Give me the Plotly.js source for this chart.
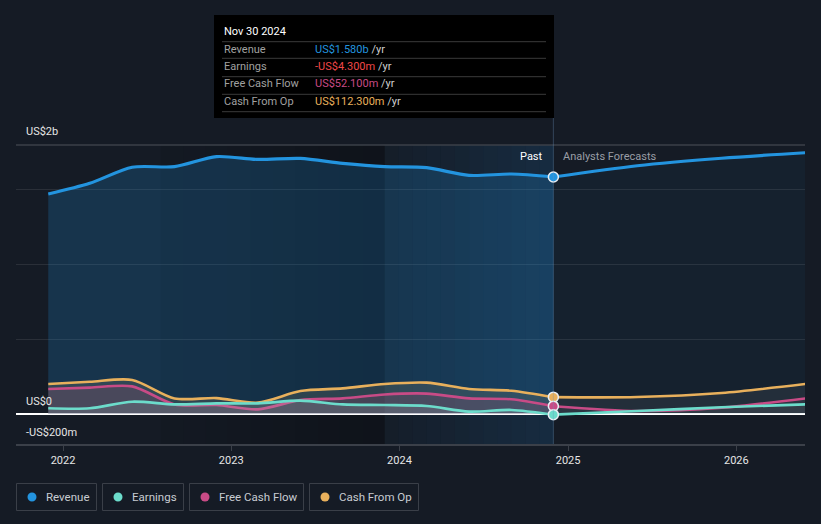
<!DOCTYPE html>
<html>
<head>
<meta charset="utf-8">
<script src="https://cdn.plot.ly/plotly-3.0.1.min.js"></script>
<style>
html,body{margin:0;padding:0;background:#151b25;}
#chart{width:821px;height:524px;}
</style>
</head>
<body>
<div id="chart"></div>
<script>
// ---- data (US$ billions) ----
const pastDates = ['2021-11-30','2022-02-28','2022-05-31','2022-08-31','2022-11-30','2023-02-28','2023-05-31','2023-08-31','2023-11-30','2024-02-29','2024-05-31','2024-08-31','2024-11-30'];
const revenuePast  = [1.467,1.538,1.645,1.649,1.716,1.697,1.704,1.671,1.649,1.642,1.591,1.600,1.580];
const earningsPast = [0.038,0.038,0.082,0.064,0.071,0.071,0.089,0.064,0.060,0.053,0.016,0.027,-0.0043];
const fcfPast      = [0.167,0.176,0.184,0.064,0.060,0.031,0.093,0.104,0.130,0.136,0.104,0.098,0.0521];
const cfoPast      = [0.200,0.215,0.227,0.104,0.106,0.076,0.153,0.171,0.200,0.209,0.167,0.155,0.1123];

const fcDates = ['2024-11-30','2025-05-31','2025-11-30','2026-05-31'];
const revenueFc  = [1.580,1.655,1.705,1.742];
const earningsFc = [-0.0043,0.020,0.045,0.064];
const fcfFc      = [0.0521,0.020,0.042,0.104];
const cfoFc      = [0.1123,0.113,0.140,0.200];

const seriesNames = ['Revenue','Earnings','Free Cash Flow','Cash From Op'];
const tooltipDate = 'Nov 30 2024';
const tooltipValues = ['US$1.580b','-US$4.300m','US$52.100m','US$112.300m'];
const yLabels = ['US$2b','US$0','-US$200m'];
const xTickVals = ['2022-01-01','2023-01-01','2024-01-01','2025-01-01','2026-01-01'];
const xTickText = ['2022','2023','2024','2025','2026'];

// ---- style ----
const C = {rev:'#2394df', earn:'#6cdccb', fcf:'#c84b86', cfo:'#e8b05c'};
const W = 821, H = 524, L = 16, R = 16, T = 145, B = 80;
const PW = W - L - R, PH = H - T - B;
const px = x => (x - L) / PW;
const py = y => (H - B - y) / PH;

function pad(n){return (n<10?'0':'')+n;}
function ds(ms){const d=new Date(ms);return d.getUTCFullYear()+'-'+pad(d.getUTCMonth()+1)+'-'+pad(d.getUTCDate())+' '+pad(d.getUTCHours())+':'+pad(d.getUTCMinutes());}

function line(x, y, color, width, fill, fillcolor){
  return {x:x, y:y, type:'scatter', mode:'lines', line:{color:color, width:width, shape:'spline', smoothing:0.8},
    fill:fill, fillcolor:fillcolor, hoverinfo:'skip', showlegend:false};
}

const traces = [
  line(pastDates, revenuePast, C.rev, 3.2, 'tozeroy', 'rgba(35,148,223,0.21)'),
  line(fcDates, revenueFc, C.rev, 3.2, 'tozeroy', 'rgba(35,148,223,0.05)'),
  line(pastDates, cfoPast, C.cfo, 2.6, 'tozeroy', 'rgba(170,160,120,0.18)'),
  line(fcDates, cfoFc, C.cfo, 2.6, 'tozeroy', 'rgba(200,200,200,0.08)'),
  line(pastDates, fcfPast, C.fcf, 2.6, 'tozeroy', 'rgba(200,80,130,0.16)'),
  line(fcDates, fcfFc, C.fcf, 2.6, 'tozeroy', 'rgba(200,200,200,0.05)'),
  line(pastDates, earningsPast, C.earn, 2.6, 'tozeroy', 'rgba(170,200,200,0.16)'),
  line(fcDates, earningsFc, C.earn, 2.6, 'tozeroy', 'rgba(200,200,200,0.05)'),
];
// markers at the latest actual point
const lastIdx = pastDates.length - 1;
[[revenuePast,C.rev],[cfoPast,C.cfo],[fcfPast,C.fcf],[earningsPast,C.earn]].forEach(([arr,c])=>{
  traces.push({x:[pastDates[lastIdx]], y:[arr[lastIdx]], type:'scatter', mode:'markers',
    marker:{size:10, color:c, line:{color:'#e8eef4', width:1.5}}, hoverinfo:'skip', showlegend:false});
});

// ---- background shapes ----
const shapes = [];
const t0 = Date.parse('2022-08-01'), t1 = Date.parse('2023-11-30'), t2 = Date.parse('2024-11-30');
const n1 = 10;
for (let i=0;i<n1;i++){
  shapes.push({type:'rect', xref:'x', yref:'paper', x0:ds(t0+(t1-t0)*i/n1), x1:ds(t0+(t1-t0)*(i+1)/n1), y0:0, y1:1,
    fillcolor:'rgba(0,0,0,'+(0.03+0.24*(i+1)/n1).toFixed(3)+')', line:{width:0}, layer:'below'});
}
const n2 = 12;
for (let i=0;i<n2;i++){
  shapes.push({type:'rect', xref:'x', yref:'paper', x0:ds(t1+(t2-t1)*i/n2), x1:ds(t1+(t2-t1)*(i+1)/n2), y0:0, y1:1,
    fillcolor:'rgba(30,110,175,'+(0.02+0.18*(i+1)/n2).toFixed(3)+')', line:{width:0}, layer:'below'});
}
// top border line of plot
shapes.push({type:'line', xref:'paper', yref:'paper', x0:0, x1:1, y0:1, y1:1, line:{color:'#3b4049', width:1.5}});
// present-day vertical line
shapes.push({type:'line', xref:'x', yref:'paper', x0:pastDates[lastIdx], x1:pastDates[lastIdx], y0:0, y1:py(118), line:{color:'rgba(110,150,190,0.35)', width:1}});
// tooltip box
shapes.push({type:'rect', xref:'paper', yref:'paper', x0:px(214), x1:px(554), y0:py(118), y1:py(15), fillcolor:'#000000', line:{width:0}});
[41.7,58.3,76.7,94.3,111.7].forEach(yy=>{
  shapes.push({type:'line', xref:'paper', yref:'paper', x0:px(222), x1:px(546), y0:py(yy), y1:py(yy), line:{color:'#3a3a3a', width:1}});
});

// ---- annotations ----
const ann = [];
const FONT = 'Roboto, "Open Sans", sans-serif';
ann.push({xref:'paper', yref:'paper', x:px(24), y:py(131), xanchor:'left', yanchor:'middle', text:yLabels[0], showarrow:false, font:{family:FONT, size:11, color:'#e6e6e6'}});
ann.push({xref:'paper', yref:'paper', x:px(24), y:py(401), xanchor:'left', yanchor:'middle', text:yLabels[1], showarrow:false, font:{family:FONT, size:11, color:'#e6e6e6'}});
ann.push({xref:'paper', yref:'paper', x:px(24), y:py(432), xanchor:'left', yanchor:'middle', text:yLabels[2], showarrow:false, font:{family:FONT, size:11, color:'#e6e6e6'}});
ann.push({xref:'paper', yref:'paper', x:px(545), y:py(156), xanchor:'right', yanchor:'middle', text:'Past', showarrow:false, font:{family:FONT, size:11, color:'#ffffff'}});
ann.push({xref:'paper', yref:'paper', x:px(561), y:py(156), xanchor:'left', yanchor:'middle', text:'Analysts Forecasts', showarrow:false, font:{family:FONT, size:11, color:'#9a9ea5'}});
// tooltip text
ann.push({xref:'paper', yref:'paper', x:px(222), y:py(31.5), xanchor:'left', yanchor:'middle', text:tooltipDate, showarrow:false, font:{family:FONT, size:11, color:'#ffffff'}});
const rowY = [49.3, 66.5, 84, 101.2];
const valColors = [C.rev, '#f04848', C.fcf, C.cfo];
seriesNames.forEach((nm,i)=>{
  ann.push({xref:'paper', yref:'paper', x:px(222), y:py(rowY[i]), xanchor:'left', yanchor:'middle', text:nm, showarrow:false, font:{family:FONT, size:11, color:'#a0a0a0'}});
  ann.push({xref:'paper', yref:'paper', x:px(313), y:py(rowY[i]), xanchor:'left', yanchor:'middle',
    text:'<span style="color:'+valColors[i]+'">'+tooltipValues[i]+'</span> /yr', showarrow:false, font:{family:FONT, size:11, color:'#cfcfcf'}});
});
// legend: boxes, dots, labels
const legBoxes = [[16,97],[102,184],[189,304],[309,419]];
const legDotX = [32,118,205,325];
const legTextX = [44,130,217,337];
const legColors = [C.rev, C.earn, C.fcf, C.cfo];
seriesNames.forEach((nm,i)=>{
  const [a,b] = legBoxes[i];
  shapes.push({type:'rect', xref:'paper', yref:'paper', x0:px(a+0.5), x1:px(b-0.5), y0:py(510.5), y1:py(483.5),
    line:{color:'#3a3f48', width:1}, fillcolor:'rgba(0,0,0,0)'});
  shapes.push({type:'circle', xref:'paper', yref:'paper', x0:px(legDotX[i]-4.5), x1:px(legDotX[i]+4.5), y0:py(501.5), y1:py(492.5),
    line:{width:0}, fillcolor:legColors[i]});
  ann.push({xref:'paper', yref:'paper', x:px(legTextX[i]), y:py(497), xanchor:'left', yanchor:'middle',
    text:nm, showarrow:false, font:{family:FONT, size:11.5, color:'#c8ccd2'}});
});

const layout = {
  width:W, height:H,
  margin:{l:L, r:R, t:T, b:B, pad:0},
  paper_bgcolor:'#151b25', plot_bgcolor:'#151b25',
  showlegend:false,
  xaxis:{type:'date', range:['2021-09-21','2026-05-30'], tickvals:xTickVals, ticktext:xTickText,
    showgrid:false, showline:true, linecolor:'#3b4049', linewidth:1.5, ticks:'outside', ticklen:5, tickcolor:'#3b4049',
    tickfont:{family:FONT, size:11, color:'#e6e6e6'}, zeroline:false, fixedrange:true},
  yaxis:{range:[-0.2, 1.7933], tickvals:[0,0.5,1,1.5], showticklabels:false, showgrid:true,
    gridcolor:'rgba(255,255,255,0.09)', gridwidth:1, zeroline:true, zerolinecolor:'#ffffff', zerolinewidth:2, fixedrange:true},
  shapes:shapes,
  annotations:ann,
  font:{family:FONT}
};

Plotly.newPlot('chart', traces, layout, {displayModeBar:false, staticPlot:true});
</script>
</body>
</html>
